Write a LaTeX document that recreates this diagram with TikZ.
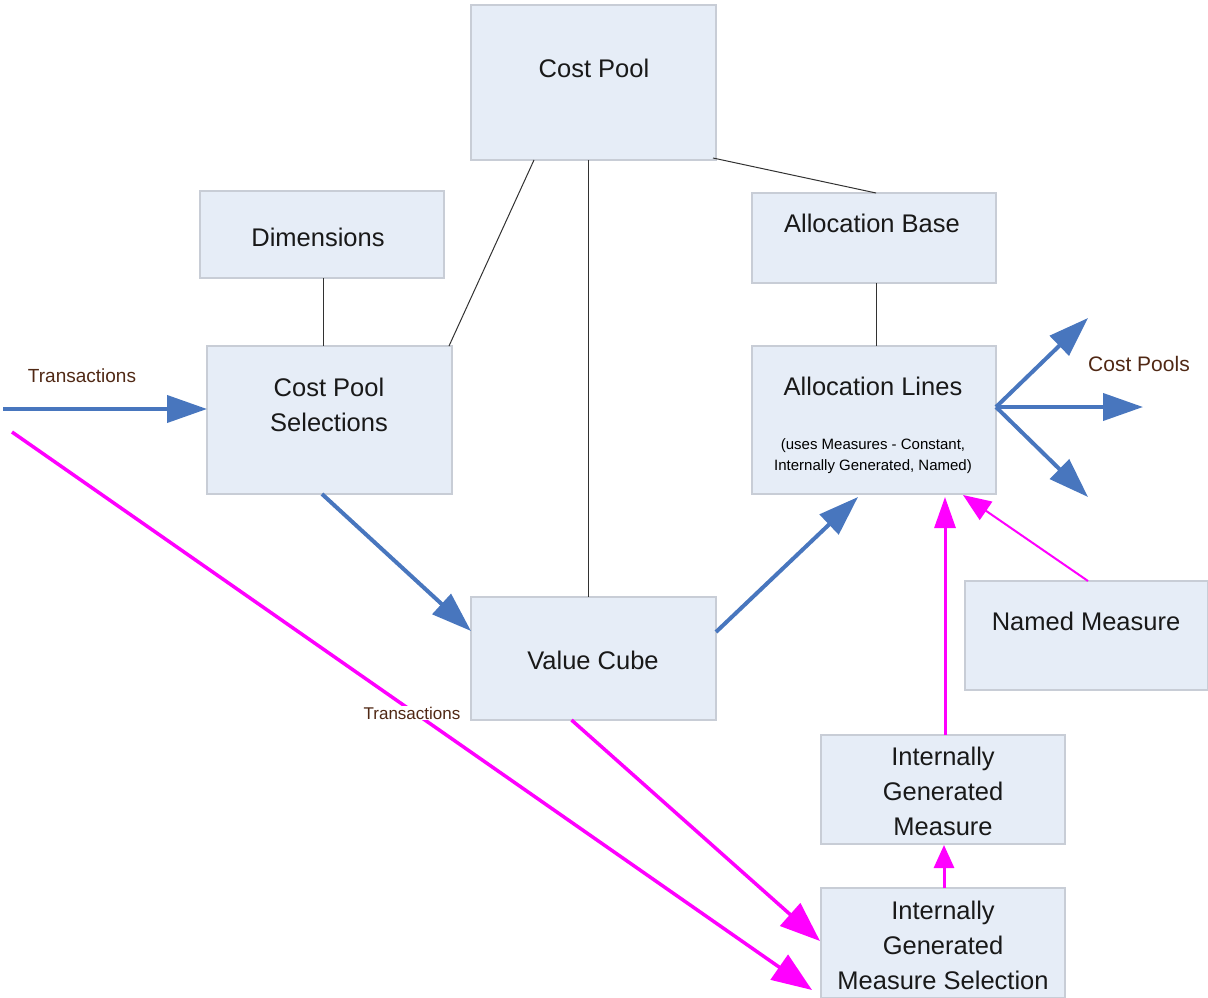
\documentclass[tikz,border=0pt]{standalone}
\usepackage{fontspec}
\setmainfont{Liberation Sans}
\usetikzlibrary{arrows.meta,calc}
\definecolor{boxfill}{RGB}{230,237,247}
\definecolor{boxline}{RGB}{200,205,214}
\definecolor{flowblue}{RGB}{72,118,190}
\definecolor{mag}{RGB}{255,0,255}
\definecolor{lblbrown}{RGB}{80,40,20}
\definecolor{conn}{RGB}{50,50,50}
\tikzset{
  box/.style={draw=boxline, fill=boxfill, line width=1.2pt, outer sep=0pt, inner sep=0pt},
  lbl/.style={font=\fontsize{25.5}{35}\selectfont, align=center, text=black!90, inner sep=0pt},
  small/.style={font=\fontsize{15}{21}\selectfont, align=center, inner sep=0pt},
  edgelbl/.style={text=lblbrown, inner sep=1pt},
  thin/.style={draw=conn, line width=1pt},
  bluearrow/.style={draw=flowblue, line width=4pt, -{Triangle[length=40pt,width=27pt]}},
  magbig/.style={draw=mag, line width=3.5pt, -{Triangle[length=40pt,width=30pt]}},
  magmid/.style={draw=mag, line width=3pt, -{Triangle[length=31pt,width=21pt]}},
  magthin/.style={draw=mag, line width=2pt, -{Triangle[length=28pt,width=22pt]}},
  magsmall/.style={draw=mag, line width=3pt, -{Triangle[length=23pt,width=20pt]}}
}
\begin{document}
\begin{tikzpicture}[x=1pt,y=-1pt]
\useasboundingbox (0,0) rectangle (1208,998);
% boxes
\node[box, minimum width=245, minimum height=155] (cp) at (593.5,82.5) {};
\node[box, minimum width=244, minimum height=87] (dim) at (322,234.5) {};
\node[box, minimum width=244, minimum height=90] (ab) at (874,238) {};
\node[box, minimum width=245, minimum height=148] (cps) at (329.5,420) {};
\node[box, minimum width=244, minimum height=148] (al) at (874,420) {};
\node[box, minimum width=245, minimum height=123] (vc) at (593.5,658.5) {};
\node[box, minimum width=243, minimum height=109] (nm) at (1086.5,635.5) {};
\node[box, minimum width=244, minimum height=109] (igm) at (943,789.5) {};
\node[box, minimum width=244, minimum height=110] (igms) at (943,943) {};
% texts
\node[lbl] (cpt) at (594,68) {Cost Pool};
\node[lbl] (dimt) at (318,237) {Dimensions};
\node[lbl] (abt) at (872,223) {Allocation Base};
\node[lbl] (cpst) at (329,405) {Cost Pool\\Selections};
\node[lbl] (alt) at (873,386) {Allocation Lines};
\node[small] (als) at (873,456) {(uses Measures - Constant,\\Internally Generated, Named)};
\node[lbl] (vct) at (593,660) {Value Cube};
\node[lbl] (nmt) at (1086,621) {Named Measure};
\node[lbl] (igmt) at (943,791) {Internally\\Generated\\Measure};
\node[lbl] (igmst) at (943,945) {Internally\\Generated\\Measure Selection};
% thin connectors
\draw[thin] ($(cp.south west)+(63,0)$) -- ($(cps.north east)+(-3,0)$);
\draw[thin] ($(cp.south)+(-5.5,0)$) -- ($(vc.north)+(-5.5,0)$);
\draw[thin] ($(cp.south east)+(-3,-2)$) -- ($(ab.north)+(2,0)$);
\draw[thin] ($(dim.south)+(1,0)$) -- ($(cps.north)+(-6.5,0)$);
\draw[thin] ($(ab.south)+(2,0)$) -- ($(al.north)+(2,0)$);
% free ends
\coordinate (t1) at (3,409);
\coordinate (t2) at (12,432);
\coordinate (o1) at (1088,318);
\coordinate (o2) at (1143,407);
\coordinate (o3) at (1088,497);
% blue arrows
\draw[bluearrow] (t1) -- ($(cps.west)+(0,-11)$);
\draw[bluearrow] ($(cps.south)+(-7.5,0)$) -- ($(vc.west)+(0,-27.5)$);
\draw[bluearrow] ($(vc.east)+(0,-26.5)$) -- ($(al.south)+(-16,3)$);
\draw[bluearrow] ($(al.east)+(0,-13)$) -- (o1);
\draw[bluearrow] ($(al.east)+(0,-13)$) -- (o2);
\draw[bluearrow] ($(al.east)+(0,-13)$) -- (o3);
% magenta arrows
\draw[magbig] (t2) -- ($(igms.west)+(-9,47)$);
\draw[magbig] ($(vc.south)+(-22,0)$) -- ($(igms.west)+(-1,-2)$);
\draw[magmid] ($(igm.north)+(2,0)$) -- ($(al.south)+(71,3)$);
\draw[magthin] ($(nm.north)+(1.5,0)$) -- ($(al.south)+(89,1)$);
\draw[magsmall] ($(igms.north)+(1,0)$) -- ($(igm.south)+(1,1)$);
% edge labels
\node[edgelbl, font=\fontsize{19}{22}\selectfont] (tl1) at (82,376) {Transactions};
\node[edgelbl, font=\fontsize{17}{20}\selectfont, fill=white] (tl2) at (412,713) {Transactions};
\node[edgelbl, font=\fontsize{21}{24}\selectfont] (cpl) at (1139,364) {Cost Pools};
\end{tikzpicture}
\end{document}
